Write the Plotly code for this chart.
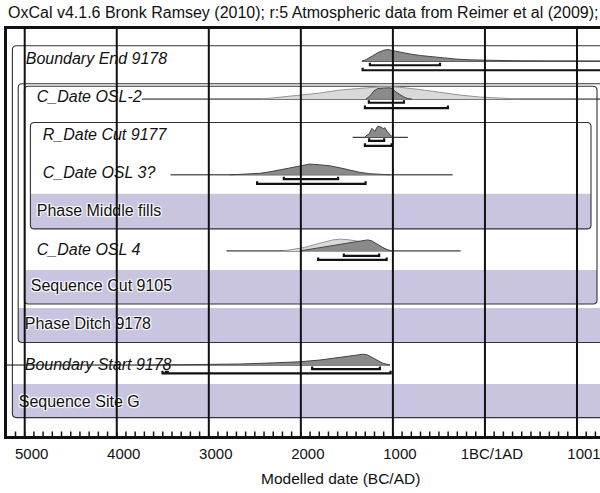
import plotly.graph_objects as go

# ---------------- data ----------------
tick_years = [-5000, -4000, -3000, -2000, -1000, 0, 1000]
tick_labels = ["5000", "4000", "3000", "2000", "1000", "1BC/1AD", "1001"]
minor_step = 100  # years between minor ticks

# Boundary End 9178 (posterior)
end_years = [-1337, -1293, -1228, -1163, -1098, -1054, -1011, -924, -815, -707, -598, -489, -326, -163, 0, 163, 380, 707, 1250, 1500]
end_prob = [0, .12, .40, .68, .88, .94, .86, .72, .58, .46, .37, .27, .18, .11, .07, .05, .03, .02, .012, .01]
end_r68 = [[-1250, -489]]
end_r95 = [[-1329, 1500]]
end_span = [-1337, 1500]

# C_Date OSL-2 (likelihood light, posterior dark)
osl2_like_years = [-2424, -2228, -2011, -1793, -1576, -1359, -1141, -1033, -924, -707, -489, -272, -54, 163, 380]
osl2_like_prob = [0, .16, .32, .48, .72, .86, .98, 1.0, .94, .76, .52, .32, .16, .06, 0]
osl2_years = [-1293, -1250, -1207, -1163, -1098, -1033, -1000, -967, -924, -880, -837, -793]
osl2_prob = [0, .24, .64, .84, .88, .90, .80, .56, .36, .16, .04, 0]
osl2_r68 = [[-1261, -880]]
osl2_r95 = [[-1304, -402]]
osl2_span = [-3728, 1500]

# R_Date Cut 9177
cut_years = [-1304, -1283, -1261, -1245, -1228, -1212, -1196, -1177, -1160, -1141, -1123, -1105, -1087, -1065, -1051, -1033, -1014, -997]
cut_prob = [0, .18, .24, .48, .72, .60, .45, .76, .90, .84, .80, .69, .77, .48, .36, .29, .08, 0]
cut_r68 = [[-1258, -1095]]
cut_r95 = [[-1304, -1014]]
cut_span = [-1438, -837]

# C_Date OSL 3?
osl3_years = [-2772, -2609, -2446, -2337, -2228, -2120, -2011, -1902, -1793, -1685, -1576, -1467, -1359, -1250, -1141, -1033]
osl3_prob = [0, .04, .12, .24, .40, .60, .76, .86, .80, .72, .56, .37, .20, .09, .04, 0]
osl3_r68 = [[-2185, -1595]]
osl3_r95 = [[-2475, -1297]]
osl3_span = [-3416, -351]

# C_Date OSL 4
osl4_like_years = [-2185, -2065, -1957, -1902, -1815, -1728, -1652, -1576, -1489, -1391, -1293, -1185, -1109, -1033, -989]
osl4_like_prob = [0, .12, .28, .40, .60, .74, .88, .94, .90, .82, .68, .48, .24, .04, 0]
osl4_years = [-2011, -1793, -1576, -1413, -1272, -1228, -1174, -1120, -1065, -1011]
osl4_prob = [0, .24, .52, .72, .88, .80, .56, .28, .08, 0]
osl4_r68 = [[-1533, -1149]]
osl4_r95 = [[-1812, -1068]]
osl4_span = [-2808, -264]

# Boundary Start 9178
start_years = [-3641, -3315, -2989, -2663, -2337, -2011, -1793, -1609, -1446, -1326, -1283, -1239, -1174, -1109, -1033]
start_prob = [0, .01, .03, .08, .16, .26, .40, .58, .74, .86, .83, .66, .40, .14, 0]
start_r68 = [[-1877, -1141]]
start_r95 = [[-3503, -3467], [-3446, -1025]]
start_span = [-5400, -1033]

# ---------------- layout helpers ----------------
W, H = 600, 493
PL, PR, PT, PB = 7.3, 0, 29.3, 57.1     # plot area margins (px)
X0_PX, PX_PER_YEAR = 485.0, 0.092       # year 0 position and scale
XMIN = (PL - X0_PX) / PX_PER_YEAR
XMAX = (W - PR - X0_PX) / PX_PER_YEAR
PLOT_H = H - PT - PB


def px2year(px):
    return (px - X0_PX) / PX_PER_YEAR


HEIGHT = 12.5  # px for relative probability 1.0
DARK_FILL, DARK_LINE = "#8a8a8a", "#444444"
LIGHT_FILL, LIGHT_LINE = "#d9d9d9", "#959595"
BAND = "#c9c5e0"

fig = go.Figure()


def dist(years, prob, base, fill, line):
    xs = [years[0]] + list(years) + [years[-1]]
    ys = [base] + [base - p * HEIGHT for p in prob] + [base]
    fig.add_trace(go.Scatter(x=xs, y=ys, mode="lines", fill="toself",
                             fillcolor=fill, line=dict(color=line, width=1),
                             hoverinfo="skip", showlegend=False))


def span_line(span, base):
    fig.add_trace(go.Scatter(x=span, y=[base, base], mode="lines",
                             line=dict(color="#111", width=1),
                             hoverinfo="skip", showlegend=False))


def bars(ranges, y):
    xs, ys = [], []
    for a, b in ranges:
        xs += [a, a, b, b, None]
        ys += [y - 2.5, y, y, y - 2.5, None]
    fig.add_trace(go.Scatter(x=xs, y=ys, mode="lines",
                             line=dict(color="#111", width=2.2),
                             hoverinfo="skip", showlegend=False))


# ---------------- group boxes & bands (pixel layout) ----------------
boxes = [  # left, top, right, bottom, band_top
    (12.7, 46, 640, 417.5, 384),
    (18.5, 84, 640, 342.5, 308),
    (24.7, 86.5, 597, 304, 270),
    (30.7, 122.7, 591, 229, 194),
]
R = 4.0
shapes = []
for (l, t, r, b, bt) in boxes:
    L, Rr = px2year(l), px2year(r)
    dx = R / PX_PER_YEAR
    band = (f"M {L},{bt} L {Rr},{bt} L {Rr},{b-R} Q {Rr},{b} {Rr-dx},{b} "
            f"L {L+dx},{b} Q {L},{b} {L},{b-R} Z")
    shapes.append(dict(type="path", path=band, xref="x", yref="y",
                       fillcolor=BAND, line=dict(width=0), layer="below"))
for (l, t, r, b, bt) in boxes:
    L, Rr = px2year(l), px2year(r)
    dx = R / PX_PER_YEAR
    outline = (f"M {L+dx},{t} L {Rr-dx},{t} Q {Rr},{t} {Rr},{t+R} L {Rr},{b-R} "
               f"Q {Rr},{b} {Rr-dx},{b} L {L+dx},{b} Q {L},{b} {L},{b-R} "
               f"L {L},{t+R} Q {L},{t} {L+dx},{t} Z")
    shapes.append(dict(type="path", path=outline, xref="x", yref="y",
                       line=dict(color="#333", width=1.1), layer="below"))

# ---------------- rows ----------------
# Boundary End
span_line(end_span, 61.5)
dist(end_years, end_prob, 61.5, DARK_FILL, DARK_LINE)
bars(end_r68, 65.5)
bars(end_r95, 70.5)
# OSL-2
span_line(osl2_span, 99.3)
dist(osl2_like_years, osl2_like_prob, 99.3, LIGHT_FILL, LIGHT_LINE)
dist(osl2_years, osl2_prob, 99.3, DARK_FILL, DARK_LINE)
bars(osl2_r68, 103)
bars(osl2_r95, 108.3)
# R_Date
span_line(cut_span, 137.5)
dist(cut_years, cut_prob, 137.5, DARK_FILL, DARK_LINE)
bars(cut_r68, 141)
bars(cut_r95, 146)
# OSL 3?
span_line(osl3_span, 175)
dist(osl3_years, osl3_prob, 175, DARK_FILL, DARK_LINE)
bars(osl3_r68, 179.3)
bars(osl3_r95, 184)
# OSL 4
span_line(osl4_span, 251)
dist(osl4_like_years, osl4_like_prob, 251, LIGHT_FILL, LIGHT_LINE)
dist(osl4_years, osl4_prob, 251, DARK_FILL, DARK_LINE)
bars(osl4_r68, 256)
bars(osl4_r95, 260)
# Boundary Start
span_line(start_span, 365)
dist(start_years, start_prob, 365, DARK_FILL, DARK_LINE)
bars(start_r68, 369)
bars(start_r95, 373.3)

# ---------------- labels ----------------
item_labels = ["Boundary End 9178", "C_Date OSL-2", "R_Date Cut 9177",
               "C_Date OSL 3?", "C_Date OSL 4", "Boundary Start 9178"]
item_pos = [(26, 60.5), (37, 98.5), (43, 136), (43, 174), (37, 251), (25, 366)]
group_labels = ["Phase Middle fills", "Sequence Cut 9105", "Phase Ditch 9178", "Sequence Site G"]
group_pos = [(37, 212), (31, 287), (25, 325), (19, 403)]

fig.add_trace(go.Scatter(
    x=[px2year(p[0]) for p in item_pos], y=[p[1] for p in item_pos],
    text=item_labels, mode="text", textposition="middle right",
    textfont=dict(family="Liberation Sans", size=16, color="#111", style="italic"),
    hoverinfo="skip", showlegend=False))
halo = "1px 1px 1px #fff, -1px -1px 1px #fff, 1px -1px 1px #fff, -1px 1px 1px #fff"
fig.add_trace(go.Scatter(
    x=[px2year(p[0]) for p in group_pos], y=[p[1] for p in group_pos],
    text=group_labels, mode="text", textposition="middle right",
    textfont=dict(family="Liberation Sans", size=16, color="#111", shadow=halo),
    hoverinfo="skip", showlegend=False))

# minor ticks along the bottom axis, every 100 years (axis decoration)
yr = int(XMIN // minor_step) * minor_step
while yr <= XMAX:
    if yr > XMIN:
        shapes.append(dict(type="line", x0=yr, x1=yr, xref="x",
                           y0=0, y1=4.5 / PLOT_H, yref="paper",
                           line=dict(color="#111", width=1.5), layer="above"))
    yr += minor_step

# gridlines (drawn above everything, as in OxCal)
for yv in tick_years:
    shapes.append(dict(type="line", x0=yv, x1=yv, xref="x", y0=0, y1=1, yref="paper",
                       line=dict(color="#111", width=2), layer="above"))

fig.update_layout(
    width=W, height=H,
    margin=dict(l=PL, r=PR, t=PT, b=PB),
    paper_bgcolor="white", plot_bgcolor="white",
    shapes=shapes,
    font=dict(family="Liberation Sans", color="#111"),
    xaxis=dict(range=[XMIN, XMAX], showgrid=False, zeroline=False,
               showline=True, linecolor="#111", linewidth=2.6, mirror=True,
               tickvals=tick_years, ticktext=tick_labels,
               ticks="", ticklabelshift=7, ticklabelstandoff=2,
               ticklabeloverflow="allow",
               tickfont=dict(size=15, color="#111")),
    yaxis=dict(range=[H - PB, PT], showgrid=False, zeroline=False,
               showline=True, linecolor="#111", linewidth=2.6,
               showticklabels=False, ticks=""),
    annotations=[
        dict(text="OxCal v4.1.6 Bronk Ramsey (2010); r:5 Atmospheric data from Reimer et al (2009);",
             xref="paper", yref="paper", x=0, y=1, xanchor="left", yanchor="middle",
             xshift=-1, yshift=17, showarrow=False,
             font=dict(family="Liberation Sans", size=16, color="#111")),
        dict(text="Modelled date (BC/AD)", xref="x", yref="paper",
             x=px2year(341), y=0, xanchor="center", yanchor="middle", yshift=-42,
             showarrow=False, font=dict(family="Liberation Sans", size=15.5, color="#111")),
    ],
)

fig.write_html("out.html")
